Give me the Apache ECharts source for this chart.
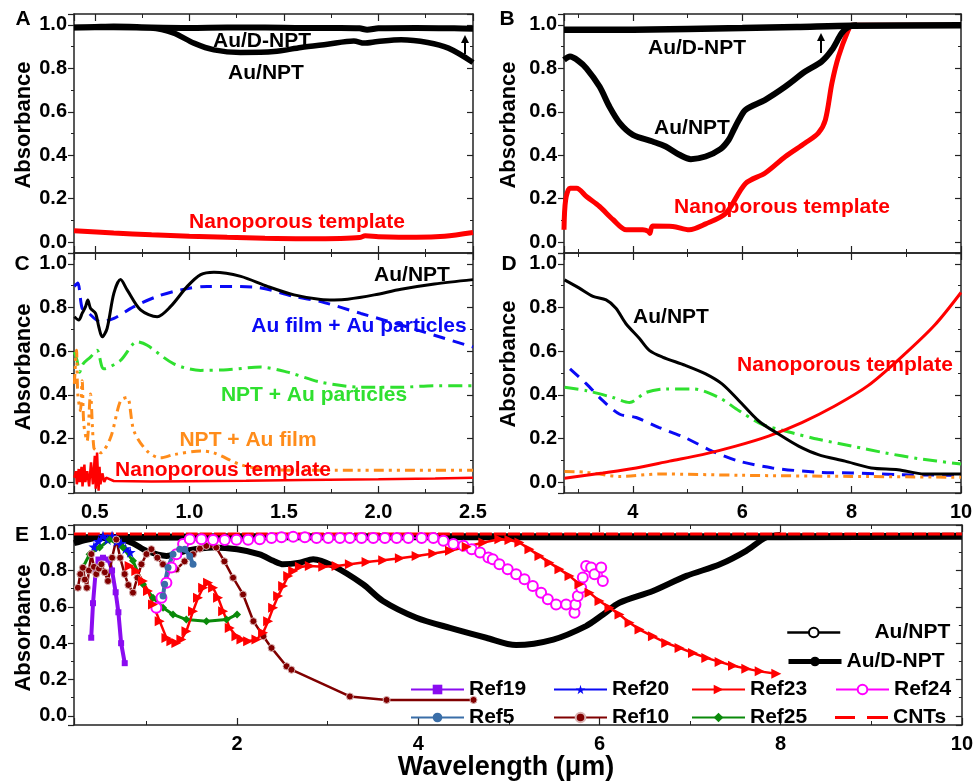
<!DOCTYPE html>
<html>
<head>
<meta charset="utf-8">
<script src="https://cdn.jsdelivr.net/npm/echarts@6/dist/echarts.min.js"></script>
<style>
html, body { margin: 0; padding: 0; background: #fff; }
#chart { width: 976px; height: 784px; }
</style>
</head>
<body>
<div id="chart"></div>
<script>
// ---- panel A (0.39 - 2.5 um) ----
const A_DNPT = [[0.39,0.988],[0.5,0.99],[0.6,0.992],[0.8,0.988],[1.0,0.986],[1.2,0.988],[1.4,0.988],[1.6,0.986],[1.8,0.986],[1.9,0.984],[1.94,0.978],[2.0,0.984],[2.2,0.986],[2.4,0.984],[2.5,0.982]];
const A_NPT = [[0.39,0.988],[0.6,0.988],[0.795,0.985],[0.918,0.962],[1.024,0.916],[1.13,0.885],[1.27,0.873],[1.448,0.877],[1.59,0.896],[1.73,0.911],[1.87,0.926],[1.925,0.916],[1.996,0.923],[2.12,0.931],[2.26,0.919],[2.37,0.893],[2.5,0.827]];
const A_TEMPLATE = [[0.39,0.052],[0.6,0.042],[0.8,0.034],[1.0,0.027],[1.2,0.022],[1.4,0.018],[1.6,0.016],[1.8,0.017],[1.9,0.021],[1.93,0.029],[2.0,0.025],[2.2,0.022],[2.35,0.027],[2.5,0.044]];

// ---- panel B (2.74 - 10 um) ----
const B_DNPT = [[2.74,0.977],[4,0.978],[6,0.985],[7,0.99],[8,0.996],[10,0.998]];
const B_NPT = [[2.74,0.839],[2.85,0.854],[3.0,0.835],[3.15,0.80],[3.39,0.716],[3.57,0.624],[3.76,0.548],[4.0,0.494],[4.36,0.463],[4.6,0.44],[4.85,0.402],[5.06,0.382],[5.33,0.394],[5.6,0.428],[5.75,0.47],[5.85,0.52],[5.94,0.563],[6.06,0.609],[6.42,0.655],[6.79,0.716],[7.15,0.785],[7.45,0.831],[7.64,0.885],[7.82,0.962],[7.94,0.99],[8.1,0.998]];
const B_TEMPLATE = [[2.74,0.057],[2.77,0.195],[2.85,0.248],[2.97,0.248],[3.15,0.21],[3.39,0.164],[3.64,0.103],[3.88,0.057],[4.18,0.057],[4.28,0.05],[4.31,0.04],[4.36,0.074],[4.73,0.072],[5.03,0.057],[5.33,0.084],[5.7,0.133],[6.06,0.27],[6.42,0.318],[6.79,0.394],[7.15,0.456],[7.39,0.502],[7.52,0.563],[7.64,0.732],[7.76,0.854],[7.94,0.977],[8.0,0.998],[10,0.998]];

// ---- panel C (0.39 - 2.5 um) ----
const C_NPT = [[0.392,0.758],[0.415,0.743],[0.433,0.773],[0.451,0.804],[0.463,0.835],[0.477,0.797],[0.504,0.773],[0.521,0.712],[0.539,0.666],[0.565,0.704],[0.601,0.866],[0.636,0.928],[0.671,0.881],[0.742,0.789],[0.83,0.758],[0.90,0.804],[0.989,0.897],[1.06,0.951],[1.13,0.962],[1.272,0.943],[1.413,0.897],[1.554,0.858],[1.695,0.837],[1.766,0.835],[1.837,0.838],[1.978,0.858],[2.119,0.884],[2.296,0.908],[2.5,0.928]];
const C_FILM = [[0.392,0.897],[0.41,0.912],[0.433,0.797],[0.459,0.781],[0.53,0.735],[0.601,0.75],[0.707,0.804],[0.83,0.851],[0.954,0.881],[1.095,0.897],[1.342,0.894],[1.554,0.851],[1.695,0.827],[1.907,0.773],[2.119,0.72],[2.296,0.673],[2.5,0.619]];
const C_PART = [[0.392,0.596],[0.406,0.558],[0.42,0.504],[0.438,0.542],[0.477,0.573],[0.512,0.604],[0.548,0.519],[0.636,0.558],[0.724,0.643],[0.777,0.627],[0.918,0.542],[1.06,0.512],[1.201,0.515],[1.377,0.527],[1.519,0.504],[1.695,0.458],[1.907,0.435],[2.119,0.435],[2.296,0.442],[2.5,0.442]];
const C_AUFILM = [[0.392,0.45],[0.403,0.604],[0.41,0.404],[0.424,0.327],[0.433,0.465],[0.442,0.265],[0.459,0.188],[0.477,0.404],[0.495,0.157],[0.512,0.142],[0.53,0.134],[0.583,0.203],[0.636,0.373],[0.671,0.388],[0.707,0.234],[0.777,0.142],[0.848,0.111],[0.918,0.126],[1.06,0.142],[1.13,0.134],[1.272,0.08],[1.413,0.057],[1.766,0.054],[2.5,0.054]];
const C_TEMPLATE = [[0.392,0.02],[0.40,0.05],[0.405,-0.01],[0.415,0.06],[0.42,0.0],[0.43,0.07],[0.435,-0.02],[0.445,0.08],[0.45,0.0],[0.46,0.05],[0.47,-0.02],[0.48,0.09],[0.49,-0.01],[0.50,0.12],[0.505,-0.03],[0.512,0.135],[0.52,-0.04],[0.525,0.07],[0.53,-0.01],[0.54,0.04],[0.55,0.0],[0.56,0.02],[0.6,0.005],[0.8,0.003],[1.0,0.004],[1.3,0.006],[1.6,0.01],[2.0,0.013],[2.3,0.016],[2.5,0.02]];

// ---- panel D (2.74 - 10 um) ----
const D_NPT = [[2.75,0.927],[3.02,0.889],[3.27,0.851],[3.51,0.835],[3.69,0.797],[3.87,0.727],[4.12,0.658],[4.30,0.604],[4.54,0.573],[4.96,0.535],[5.33,0.496],[5.63,0.45],[5.94,0.373],[6.30,0.28],[6.67,0.219],[7.03,0.165],[7.39,0.126],[7.88,0.096],[8.36,0.065],[8.85,0.057],[9.33,0.037],[10,0.037]];
const D_FILM = [[2.85,0.519],[3.15,0.45],[3.45,0.373],[3.76,0.311],[4.06,0.296],[4.48,0.25],[4.96,0.203],[5.45,0.142],[5.94,0.096],[6.55,0.065],[7.39,0.045],[8.0,0.042],[8.91,0.034],[10,0.031]];
const D_PART = [[2.75,0.435],[3.15,0.419],[3.63,0.388],[3.94,0.365],[4.24,0.411],[4.60,0.427],[5.09,0.427],[5.57,0.388],[5.94,0.327],[6.36,0.265],[6.91,0.226],[7.39,0.196],[8.0,0.165],[8.61,0.134],[9.21,0.108],[10,0.083]];
const D_AUFILM = [[2.75,0.049],[3.15,0.045],[3.76,0.026],[4.5,0.037],[6.0,0.031],[8.0,0.026],[10,0.022]];
const D_TEMPLATE = [[2.75,0.018],[3.45,0.042],[4.06,0.065],[4.67,0.096],[5.27,0.126],[5.88,0.165],[6.48,0.211],[7.09,0.273],[7.70,0.35],[8.30,0.442],[8.91,0.573],[9.52,0.72],[10,0.869]];

// ---- panel E (0.2 - 10 um) ----
const E_NPT = [[0.2,0.95],[0.35,0.97],[0.5,0.985],[0.7,0.975],[0.85,0.95],[1.0,0.908],[1.22,0.88],[1.44,0.908],[1.73,0.926],[2.0,0.917],[2.25,0.889],[2.4,0.853],[2.51,0.834],[2.69,0.843],[2.84,0.862],[3.06,0.825],[3.39,0.724],[3.61,0.632],[3.98,0.54],[4.35,0.484],[4.75,0.43],[5.08,0.39],[5.49,0.42],[5.85,0.494],[6.04,0.558],[6.22,0.622],[6.59,0.687],[6.96,0.77],[7.33,0.834],[7.62,0.908],[7.84,0.982],[8.0,0.995]];
const E_DNPT = [[0.2,0.98],[1,0.982],[2,0.985],[4,0.985],[6,0.986],[8,0.986],[10,0.988]];
const E_CNT = [[0.2,1.0],[10,1.0]];
const REF19 = [[0.39,0.43],[0.41,0.62],[0.44,0.8],[0.47,0.86],[0.52,0.87],[0.58,0.86],[0.62,0.8],[0.66,0.68],[0.69,0.57],[0.72,0.4],[0.76,0.29]];
const REF20 = [[0.42,0.93],[0.47,0.96],[0.52,0.99],[0.57,0.97],[0.62,0.99],[0.67,0.96],[0.72,0.95],[0.77,0.92],[0.82,0.9]];
const REF23 = [[0.814,0.825],[0.888,0.797],[0.961,0.742],[1.017,0.687],[1.072,0.613],[1.146,0.521],[1.22,0.429],[1.275,0.411],[1.33,0.401],[1.385,0.42],[1.441,0.466],[1.514,0.576],[1.569,0.65],[1.625,0.705],[1.68,0.733],[1.735,0.705],[1.79,0.65],[1.846,0.576],[1.919,0.484],[1.993,0.438],[2.048,0.42],[2.122,0.411],[2.214,0.42],[2.287,0.457],[2.343,0.521],[2.398,0.595],[2.453,0.659],[2.508,0.715],[2.564,0.77],[2.619,0.797],[2.693,0.82],[2.803,0.825],[2.951,0.82],[3.098,0.825],[3.245,0.834],[3.429,0.847],[3.613,0.856],[3.797,0.867],[3.982,0.88],[4.166,0.893],[4.35,0.908],[4.534,0.93],[4.718,0.954],[4.895,0.972],[5.006,0.967],[5.116,0.954],[5.227,0.917],[5.337,0.88],[5.448,0.843],[5.558,0.807],[5.669,0.77],[5.779,0.724],[5.89,0.678],[6.0,0.632],[6.11,0.595],[6.221,0.558],[6.332,0.512],[6.442,0.475],[6.59,0.438],[6.737,0.401],[6.884,0.374],[7.032,0.346],[7.179,0.319],[7.326,0.297],[7.474,0.276],[7.621,0.26],[7.768,0.245],[7.952,0.232]];
const REF24 = [[1.109,0.595],[1.165,0.65],[1.22,0.733],[1.275,0.816],[1.33,0.889],[1.404,0.945],[1.478,0.972],[1.607,0.972],[1.735,0.967],[1.864,0.967],[1.993,0.969],[2.122,0.969],[2.25,0.972],[2.38,0.978],[2.49,0.982],[2.619,0.985],[2.748,0.982],[2.877,0.978],[3.006,0.978],[3.135,0.978],[3.245,0.978],[3.374,0.978],[3.503,0.978],[3.632,0.978],[3.761,0.978],[3.89,0.978],[4.037,0.978],[4.166,0.978],[4.277,0.963],[4.387,0.945],[4.498,0.936],[4.59,0.917],[4.682,0.899],[4.774,0.871],[4.822,0.862],[4.895,0.834],[4.987,0.807],[5.08,0.779],[5.172,0.751],[5.264,0.715],[5.356,0.678],[5.43,0.641],[5.521,0.613],[5.632,0.613],[5.724,0.567],[5.735,0.613],[5.761,0.659],[5.798,0.705],[5.816,0.761],[5.853,0.825],[5.908,0.816],[5.945,0.779],[6.019,0.816],[6.037,0.742]];
const REF5 = [[1.183,0.659],[1.2,0.724],[1.238,0.816],[1.293,0.889],[1.367,0.917],[1.422,0.917],[1.478,0.88],[1.514,0.834]];
const REF10 = [[0.243,0.705],[0.27,0.78],[0.298,0.815],[0.32,0.75],[0.342,0.705],[0.365,0.8],[0.391,0.89],[0.42,0.82],[0.446,0.78],[0.475,0.81],[0.502,0.834],[0.54,0.79],[0.575,0.742],[0.62,0.87],[0.667,0.97],[0.71,0.87],[0.759,0.78],[0.80,0.72],[0.851,0.678],[0.9,0.76],[0.944,0.834],[1.0,0.89],[1.054,0.917],[1.12,0.87],[1.182,0.834],[1.25,0.82],[1.33,0.806],[1.42,0.85],[1.514,0.889],[1.59,0.92],[1.66,0.935],[1.77,0.926],[1.86,0.85],[1.956,0.76],[2.066,0.668],[2.18,0.521],[2.29,0.438],[2.38,0.374],[2.546,0.273],[2.6,0.254],[3.245,0.107],[3.65,0.088],[4.61,0.088]];
const REF25 = [[0.298,0.816],[0.372,0.889],[0.483,0.926],[0.594,0.97],[0.74,0.926],[0.851,0.853],[0.961,0.724],[1.072,0.65],[1.183,0.595],[1.293,0.558],[1.44,0.53],[1.662,0.521],[1.883,0.53],[2.0,0.558]];

const FONT = '"Liberation Sans", Arial, sans-serif';
const AXIS_COLOR = '#222';

function xAxis(grid, min, max, split, pos, showLabel, digits) {
    return {
        type: 'value', gridIndex: grid, position: pos, min: min, max: max, splitNumber: split,
        axisLine: { show: true, onZero: false, lineStyle: { color: AXIS_COLOR, width: 1.5 } },
        axisTick: { show: true, inside: true, length: 7, lineStyle: { color: AXIS_COLOR, width: 1.2 } },
        minorTick: { show: true, splitNumber: 2, length: 4, lineStyle: { color: AXIS_COLOR, width: 1 } },
        splitLine: { show: false },
        axisLabel: {
            show: showLabel, margin: 9, showMinLabel: false, showMaxLabel: true,
            color: '#000', fontFamily: FONT, fontWeight: 'bold', fontSize: 20,
            formatter: function (v) { return v.toFixed(digits); }
        }
    };
}

function yAxis(grid, pos, showLabel) {
    return {
        type: 'value', gridIndex: grid, position: pos, min: -0.05, max: 1.05, splitNumber: 5,
        axisLine: { show: true, onZero: false, lineStyle: { color: AXIS_COLOR, width: 1.5 } },
        axisTick: { show: true, inside: pos === 'right', length: 6, lineStyle: { color: AXIS_COLOR, width: 1.2 } },
        minorTick: { show: true, splitNumber: 2, length: 3, lineStyle: { color: AXIS_COLOR, width: 1 } },
        splitLine: { show: false },
        axisLabel: {
            show: showLabel, margin: 7, showMinLabel: false, showMaxLabel: false,
            color: '#000', fontFamily: FONT, fontWeight: 'bold', fontSize: 20,
            formatter: function (v) { return v.toFixed(1); }
        }
    };
}

function ser(name, data, g, color, width, dash, extra) {
    return Object.assign({
        type: 'line', name: name, data: data, xAxisIndex: 2 * g, yAxisIndex: 2 * g,
        showSymbol: false, symbol: 'none', smooth: 0.3, clip: true, silent: true,
        lineStyle: { color: color, width: width, type: dash || 'solid' },
        itemStyle: { color: color }, emphasis: { disabled: true }
    }, extra || {});
}

function mark(symbol, size, color, extra) {
    return Object.assign({ showSymbol: true, symbol: symbol, symbolSize: size, smooth: false, itemStyle: { color: color } }, extra || {});
}

function txt(s, x, y, color, size, rot) {
    return {
        type: 'text', x: x, y: y, rotation: rot || 0, z: 100, silent: true,
        style: { text: s, fill: color, font: 'bold ' + size + 'px ' + FONT, align: 'center', verticalAlign: 'middle' }
    };
}

function arrow(x, y0, y1) {
    return [
        { type: 'line', z: 100, silent: true, shape: { x1: x, y1: y0, x2: x, y2: y1 + 6 }, style: { stroke: '#000', lineWidth: 2 } },
        { type: 'polygon', z: 100, silent: true, shape: { points: [[x - 4, y1 + 8], [x + 4, y1 + 8], [x, y1]] }, style: { fill: '#000' } }
    ];
}

function leg(item, left, top, extra) {
    return Object.assign({
        data: [item], left: left, top: top, itemWidth: 53, itemHeight: 12, padding: 0, selectedMode: false,
        textStyle: { color: '#000', fontFamily: FONT, fontWeight: 'bold', fontSize: 21 }
    }, extra || {});
}

const STAR = 'path://M50 0L61 35L98 35L68 57L79 91L50 70L21 91L32 57L2 35L39 35Z';
const BLUE = '#0a0af5', GREEN = '#2fe02f', ORANGE = '#ff8c1a', RED = '#ff0000';

const chart = echarts.init(document.getElementById('chart'));

const option = {
    animation: false,
    backgroundColor: '#fff',
    grid: [
        { left: 74, top: 14, width: 399, height: 239 },
        { left: 564, top: 14, width: 397, height: 239 },
        { left: 74, top: 253, width: 399, height: 240 },
        { left: 564, top: 253, width: 397, height: 240 },
        { left: 74, top: 525, width: 888, height: 200 }
    ],
    xAxis: [
        xAxis(0, 0.39, 2.5, 5, 'bottom', false, 1), xAxis(0, 0.39, 2.5, 5, 'top', false, 1),
        xAxis(1, 2.74, 10, 4, 'bottom', false, 0), xAxis(1, 2.74, 10, 4, 'top', false, 0),
        xAxis(2, 0.39, 2.5, 5, 'bottom', true, 1), xAxis(2, 0.39, 2.5, 5, 'top', false, 1),
        xAxis(3, 2.74, 10, 4, 'bottom', true, 0), xAxis(3, 2.74, 10, 4, 'top', false, 0),
        xAxis(4, 0.2, 10, 5, 'bottom', true, 0), xAxis(4, 0.2, 10, 5, 'top', false, 0)
    ],
    yAxis: [
        yAxis(0, 'left', true), yAxis(0, 'right', false),
        yAxis(1, 'left', true), yAxis(1, 'right', false),
        yAxis(2, 'left', true), yAxis(2, 'right', false),
        yAxis(3, 'left', true), yAxis(3, 'right', false),
        yAxis(4, 'left', true), yAxis(4, 'right', false)
    ],
    legend: [
        leg({ name: 'Au/NPT', lineStyle: { width: 2.5 } }, 786, 622, { formatter: function (n) { return '     ' + n; } }),
        leg({ name: 'Au/D-NPT', lineStyle: { width: 5 } }, 786, 651),
        leg('Ref19', 410, 679),
        leg('Ref20', 553, 679),
        leg('Ref23', 691, 679),
        leg('Ref24', 835, 679),
        leg('Ref5', 410, 707),
        leg('Ref10', 553, 707),
        leg('Ref25', 691, 707),
        leg({ name: 'CNTs', icon: 'path://M0 0H20V3H0Z M32 0H53V3H32Z' }, 835, 707)
    ],
    series: [
        // A
        ser('a-npt', A_NPT, 0, '#000', 5.5),
        ser('a-dnpt', A_DNPT, 0, '#000', 6),
        ser('a-template', A_TEMPLATE, 0, RED, 5),
        // B
        ser('b-template', B_TEMPLATE, 1, RED, 5),
        ser('b-npt', B_NPT, 1, '#000', 6),
        ser('b-dnpt', B_DNPT, 1, '#000', 6.5),
        // C
        ser('c-film', C_FILM, 2, BLUE, 3, [12, 8]),
        ser('c-part', C_PART, 2, GREEN, 3, [14, 6, 3, 6]),
        ser('c-aufilm', C_AUFILM, 2, ORANGE, 3, [10, 5, 3, 5, 3, 5]),
        ser('c-template', C_TEMPLATE, 2, RED, 2.5, 'solid', { smooth: false }),
        ser('c-npt', C_NPT, 2, '#000', 3),
        // D
        ser('d-film', D_FILM, 3, BLUE, 3, [12, 8]),
        ser('d-part', D_PART, 3, GREEN, 3, [14, 6, 3, 6]),
        ser('d-aufilm', D_AUFILM, 3, ORANGE, 3, [10, 5, 3, 5, 3, 5]),
        ser('d-template', D_TEMPLATE, 3, RED, 3),
        ser('d-npt', D_NPT, 3, '#000', 3),
        // E
        ser('Au/NPT', E_NPT, 4, '#000', 6, 'solid', { symbol: 'emptyCircle' }),
        ser('Au/D-NPT', E_DNPT, 4, '#000', 7, 'solid', { symbol: 'circle' }),
        ser('Ref19', REF19, 4, '#8a0cf0', 4, 'solid', mark('rect', 6, '#8a0cf0')),
        ser('Ref20', REF20, 4, BLUE, 3, 'solid', mark(STAR, 11, BLUE)),
        ser('Ref25', REF25, 4, '#0a8a0a', 3, 'solid', mark('diamond', 8, '#0a8a0a')),
        ser('Ref10', REF10, 4, '#800000', 2.5, 'solid', mark('circle', 7, '#800000', { itemStyle: { color: '#800000', borderColor: '#d9b3b3', borderWidth: 1 } })),
        ser('Ref24', REF24, 4, '#ff00ff', 1.5, 'solid', mark('emptyCircle', 10, '#ff00ff')),
        ser('Ref5', REF5, 4, '#3a6ea8', 4, 'solid', mark('circle', 7, '#3a6ea8')),
        ser('Ref23', REF23, 4, RED, 2.5, 'solid', mark('triangle', 10, RED, { symbolRotate: -90 })),
        ser('CNTs', E_CNT, 4, RED, 3, [12, 2])
    ],
    graphic: [
        txt('A', 23, 19, '#000', 21), txt('B', 507, 19, '#000', 21),
        txt('C', 22, 264, '#000', 21), txt('D', 509, 264, '#000', 21),
        txt('E', 22, 535, '#000', 21),
        txt('Absorbance', 24, 125, '#000', 22, Math.PI / 2),
        txt('Absorbance', 509, 125, '#000', 22, Math.PI / 2),
        txt('Absorbance', 24, 367, '#000', 22, Math.PI / 2),
        txt('Absorbance', 509, 364, '#000', 22, Math.PI / 2),
        txt('Absorbance', 24, 628, '#000', 22, Math.PI / 2),
        txt('Wavelength (μm)', 506, 768, '#000', 27),
        txt('Au/D-NPT', 262, 41, '#000', 21),
        txt('Au/NPT', 266, 73, '#000', 21),
        txt('Nanoporous template', 297, 222, RED, 21),
        txt('Au/D-NPT', 697, 48, '#000', 21),
        txt('Au/NPT', 692, 128, '#000', 21),
        txt('Nanoporous template', 782, 207, RED, 21),
        txt('Au/NPT', 412, 275, '#000', 21),
        txt('Au film + Au particles', 359, 326, BLUE, 21),
        txt('NPT + Au particles', 314, 395, GREEN, 21),
        txt('NPT + Au film', 248, 440, ORANGE, 21),
        txt('Nanoporous template', 223, 470, RED, 21),
        txt('Au/NPT', 671, 317, '#000', 21),
        txt('Nanoporous template', 845, 365, RED, 21)
    ].concat(arrow(465, 54, 35)).concat(arrow(821, 53, 33))
};

chart.setOption(option);
</script>
</body>
</html>
